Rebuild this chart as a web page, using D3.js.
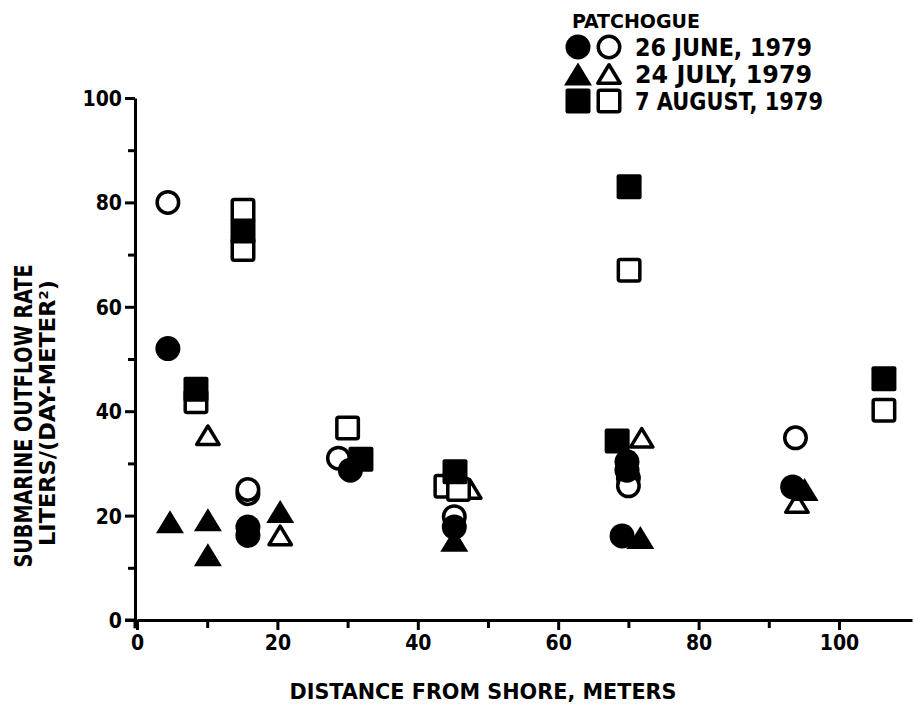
<!DOCTYPE html>
<html>
<head>
<meta charset="utf-8">
<script src="https://cdn.jsdelivr.net/npm/d3@7"></script>
<style>
  body { margin: 0; background: #fff; }
  text { font-family: "DejaVu Sans Condensed", "DejaVu Sans", sans-serif; font-weight: bold; fill: #000; }
</style>
</head>
<body>
<div id="chart"></div>
<script>
// distance from shore (m), outflow rate (L / day m^2)
const juneFilled = [[4.4, 52], [15.8, 17.8], [15.8, 16.2], [30.4, 28.7], [45.2, 17.8],
  [69.8, 30.3], [69.8, 28.7], [69.1, 16.1], [93.4, 25.5]];
const juneOpen = [[4.4, 80], [15.8, 24.2], [15.8, 25], [28.7, 31], [45.2, 19.8],
  [70, 27.2], [70, 25.7], [93.8, 34.9]];
const julyFilled = [[4.7, 18.8], [10.1, 19.2], [10.1, 12.5], [20.4, 20.8], [45.2, 15.3],
  [71.7, 15.8], [95.1, 25.0]];
const julyOpen = [[10.1, 35.4], [20.4, 16.2], [47.4, 25.1], [71.9, 34.9], [94, 22.4]];
const augFilled = [[8.4, 44.2], [15.1, 74.5], [31.9, 30.8], [45.3, 28.4], [68.4, 34.3],
  [70.1, 83], [106.4, 46.2]];
const augOpen = [[8.4, 41.8], [15.1, 78.5], [15.1, 71], [30, 36.8], [44, 25.6], [45.8, 25.0],
  [70.1, 67], [106.4, 40.2]];

const legendTitle = "PATCHOGUE";
const legendLabels = ["26 JUNE, 1979", "24 JULY, 1979", "7 AUGUST, 1979"];
const legendShapes = ["circle", "triangle", "square"];
const xMajorTicks = [0, 20, 40, 60, 80, 100];
const xMinorTicks = [10, 30, 50, 70, 90];
const yMajorTicks = [0, 20, 40, 60, 80, 100];
const yMinorTicks = [10, 30, 50, 70, 90];
const xTitle = "DISTANCE FROM SHORE, METERS";
const yTitle1 = "SUBMARINE OUTFLOW RATE";

const W = 914, H = 705;
const svg = d3.select("#chart").append("svg")
    .attr("width", W).attr("height", H);

const x = d3.scaleLinear().domain([0, 110.4]).range([137, 912]);
const y = d3.scaleLinear().domain([0, 100]).range([620, 98]);

// axes
function styleAxis(g) {
  g.select(".domain").attr("stroke", "#000").attr("stroke-width", 3);
  g.selectAll(".tick line").attr("stroke", "#000").attr("stroke-width", 3);
  g.selectAll(".tick text").style("font-size", "21px").attr("fill", "#000");
}

svg.append("g")
    .attr("transform", `translate(0, ${y(0)})`)
    .call(d3.axisBottom(x).tickValues(xMajorTicks).tickSize(10).tickSizeOuter(0).tickPadding(5))
    .call(styleAxis)
    .call(g => g.selectAll(".tick text").attr("dy", "0.72em"));
svg.append("g")
    .attr("transform", `translate(0, ${y(0)})`)
    .call(d3.axisBottom(x).tickValues(xMinorTicks).tickSize(8).tickFormat(""))
    .call(styleAxis)
    .call(g => g.select(".domain").remove());

svg.append("g")
    .attr("transform", `translate(${x(0) - 2}, 0)`)
    .call(d3.axisLeft(y).tickValues(yMajorTicks).tickSize(10).tickSizeOuter(0).tickPadding(3))
    .call(styleAxis)
    .call(g => g.selectAll(".tick text").attr("dy", "0.36em"));
svg.append("g")
    .attr("transform", `translate(${x(0) - 2}, 0)`)
    .call(d3.axisLeft(y).tickValues(yMinorTicks).tickSize(7).tickFormat(""))
    .call(styleAxis)
    .call(g => g.select(".domain").remove());

// small overhang of the axes past the origin
svg.append("line")
    .attr("x1", x(-1.7)).attr("x2", x(0))
    .attr("y1", y(0)).attr("y2", y(0))
    .attr("stroke", "#000").attr("stroke-width", 3);
svg.append("line")
    .attr("x1", x(0) - 2).attr("x2", x(0) - 2)
    .attr("y1", y(0)).attr("y2", y(-1.6))
    .attr("stroke", "#000").attr("stroke-width", 3);

// axis titles
svg.append("text")
    .attr("x", 483).attr("y", 699)
    .attr("text-anchor", "middle")
    .attr("textLength", 387).attr("lengthAdjust", "spacingAndGlyphs")
    .style("font-size", "22px")
    .text(xTitle);

svg.append("text")
    .attr("transform", "translate(32, 416) rotate(-90)")
    .attr("text-anchor", "middle")
    .attr("textLength", 303).attr("lengthAdjust", "spacingAndGlyphs")
    .style("font-size", "24px")
    .text(yTitle1);

const yt2 = svg.append("text")
    .attr("transform", "translate(55, 413) rotate(-90)")
    .attr("text-anchor", "middle")
    .attr("textLength", 266).attr("lengthAdjust", "spacingAndGlyphs")
    .style("font-size", "22px");
yt2.append("tspan").text("LITERS/(DAY-METER");
yt2.append("tspan").attr("baseline-shift", "super").style("font-size", "13px").text("2");
yt2.append("tspan").text(")");

// marks
const SZ = 25, SW = 3.5;
function addShape(g, shape, cx, cy, filled) {
  const s = filled ? SZ : SZ - SW;
  let el;
  if (shape === "circle") {
    el = g.append("circle").attr("cx", cx).attr("cy", cy).attr("r", s / 2);
  } else if (shape === "square") {
    el = g.append("rect").attr("x", cx - s / 2).attr("y", cy - s / 2)
        .attr("width", s).attr("height", s).attr("rx", 2);
  } else {
    const w = filled ? 28 : 28 - SW * 1.6, h = filled ? 23 : 23 - SW * 1.3;
    el = g.append("path")
        .attr("d", `M${cx},${cy - h / 2}L${cx + w / 2},${cy + h / 2}L${cx - w / 2},${cy + h / 2}Z`)
        .attr("stroke-linejoin", "round");
  }
  if (filled) el.attr("fill", "#000").attr("stroke", "none");
  else el.attr("fill", "#fff").attr("stroke", "#000").attr("stroke-width", SW);
}

const marks = svg.append("g");
[[juneOpen, "circle"], [julyOpen, "triangle"], [augOpen, "square"]].forEach(([data, shape]) => {
  data.forEach(d => addShape(marks, shape, x(d[0]), y(d[1]), false));
});
[[juneFilled, "circle"], [julyFilled, "triangle"], [augFilled, "square"]].forEach(([data, shape]) => {
  data.forEach(d => addShape(marks, shape, x(d[0]), y(d[1]), true));
});

// legend
const legend = svg.append("g");
legend.append("text")
    .attr("x", 572).attr("y", 28)
    .attr("textLength", 128).attr("lengthAdjust", "spacingAndGlyphs")
    .style("font-size", "20px")
    .text(legendTitle);
const legendWidths = [177, 177, 188];
legendLabels.forEach((label, i) => {
  const cy = 47 + i * 27;
  addShape(legend, legendShapes[i], 578, cy, true);
  addShape(legend, legendShapes[i], 609, cy, false);
  legend.append("text")
      .attr("x", 635).attr("y", cy + 9)
      .attr("textLength", legendWidths[i]).attr("lengthAdjust", "spacingAndGlyphs")
      .style("font-size", "24px")
      .text(label);
});
</script>
</body>
</html>
